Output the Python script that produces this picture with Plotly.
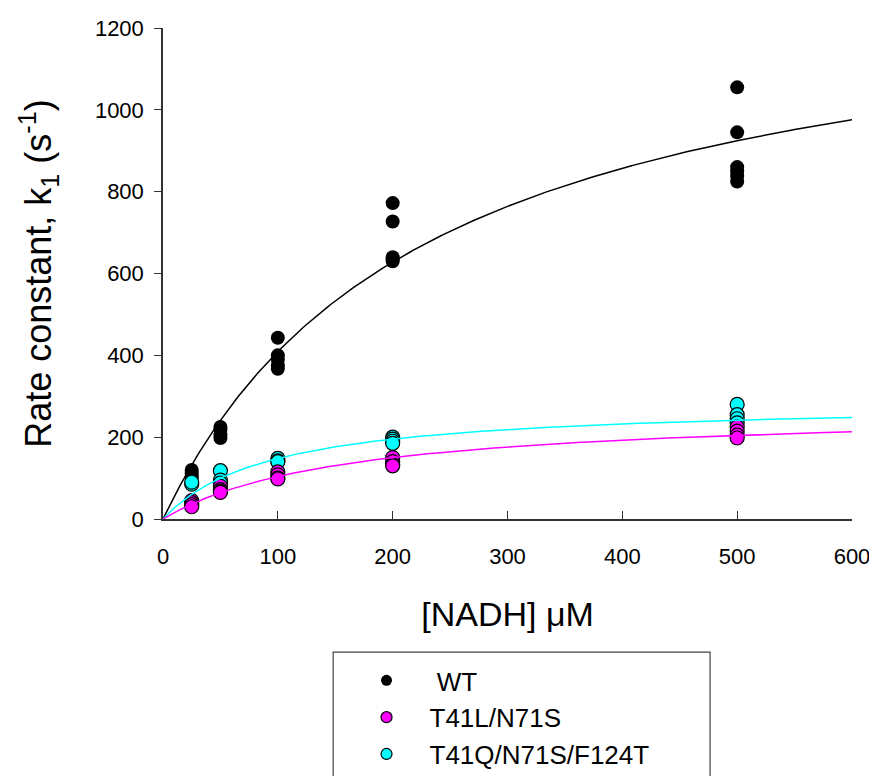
import numpy as np
import plotly.graph_objects as go

# ---- data ----
conc_wt = [25, 25, 25, 25, 50, 50, 50, 50, 100, 100, 100, 100, 100,
           200, 200, 200, 200, 200, 500, 500, 500, 500, 500, 500]
rate_wt = [120, 112, 105, 100, 225, 218, 205, 198, 443, 400, 390, 375, 367,
           772, 727, 640, 635, 630, 1055, 945, 860, 850, 838, 825]

conc_l = [25, 25, 25, 25, 50, 50, 50, 50, 100, 100, 100, 100,
          200, 200, 200, 200, 500, 500, 500, 500]
rate_l = [45, 40, 35, 30, 80, 72, 68, 65, 115, 108, 100, 98,
          150, 140, 133, 130, 225, 215, 205, 198]

conc_q = [25, 25, 50, 50, 50, 100, 100, 100, 200, 200, 200, 200,
          500, 500, 500, 500]
rate_q = [85, 90, 118, 95, 88, 148, 142, 140, 200, 195, 190, 185,
          280, 255, 245, 235]

# Michaelis-Menten fit parameters (Vmax, Km) estimated from the curves
fit_wt = (1350, 230)
fit_l = (270, 160)
fit_q = (287, 94)

names = [" WT", "T41L/N71S", "T41Q/N71S/F124T"]
colors = ["#000000", "#ff00ff", "#00ffff"]

x_ticks = [0, 100, 200, 300, 400, 500, 600]
y_ticks = [0, 200, 400, 600, 800, 1000, 1200]

xfit = np.linspace(0, 600, 301)

def mm(p):
    return p[0] * xfit / (p[1] + xfit)

fig = go.Figure()

# points (draw order WT, cyan, magenta)
fig.add_trace(go.Scatter(x=conc_wt, y=rate_wt, mode="markers", showlegend=False,
                         marker=dict(size=14, color=colors[0], line=dict(width=0)),
                         cliponaxis=False))
fig.add_trace(go.Scatter(x=conc_q, y=rate_q, mode="markers", showlegend=False,
                         marker=dict(size=14, color=colors[2], line=dict(width=1.2, color="black")),
                         cliponaxis=False))
fig.add_trace(go.Scatter(x=conc_l, y=rate_l, mode="markers", showlegend=False,
                         marker=dict(size=14, color=colors[1], line=dict(width=1.2, color="black")),
                         cliponaxis=False))

# fit curves
for p, c in [(fit_wt, colors[0]), (fit_q, colors[2]), (fit_l, colors[1])]:
    fig.add_trace(go.Scatter(x=xfit, y=mm(p), mode="lines", showlegend=False,
                             line=dict(color=c, width=1.5), hoverinfo="skip"))

# legend entries
for i, (n, c) in enumerate(zip(names, colors)):
    fig.add_trace(go.Scatter(x=[None], y=[None], mode="markers", name=n,
                             legendrank=i + 1,
                             marker=dict(size=11, color=c,
                                         line=dict(width=0 if i == 0 else 1.2, color="black"))))

axis_font = dict(family="Arial, Liberation Sans, sans-serif", size=22, color="black")

fig.update_layout(
    width=877, height=820,
    margin=dict(l=155, r=33, t=20, b=309),
    paper_bgcolor="white", plot_bgcolor="white",
    font=dict(family="Arial, Liberation Sans, sans-serif", color="black"),
    xaxis=dict(range=[0, 600], tickvals=x_ticks, ticks="inside", ticklen=8,
               tickwidth=1.2, tickcolor="#333", showline=True, linecolor="#333",
               linewidth=1.5, showgrid=False, zeroline=False, tickfont=axis_font,
               automargin=False, ticklabelstandoff=17,
               title=dict(text="[NADH] μM", font=dict(size=34), standoff=34)),
    yaxis=dict(range=[0, 1200], tickvals=y_ticks, ticks="outside", ticklen=7,
               tickwidth=1.2, tickcolor="#333", showline=True, linecolor="#333",
               linewidth=1.5, showgrid=False, zeroline=False, tickfont=axis_font,
               automargin=False, ticklabelstandoff=6,
               title=dict(text="Rate constant, k<sub>1</sub> (s<sup>-1</sup>)",
                          font=dict(size=36), standoff=32)),
    legend=dict(x=0.262, y=-0.281, xanchor="left", yanchor="top",
                font=dict(size=26), bgcolor="rgba(0,0,0,0)", borderwidth=0,
                tracegroupgap=0, itemwidth=76),
    shapes=[dict(type="rect", xref="paper", yref="paper",
                 x0=0.247, x1=0.794, y0=-0.271, y1=-0.62,
                 line=dict(color="#444", width=1.2), fillcolor="rgba(0,0,0,0)")],
)

fig.write_html("out.html")
